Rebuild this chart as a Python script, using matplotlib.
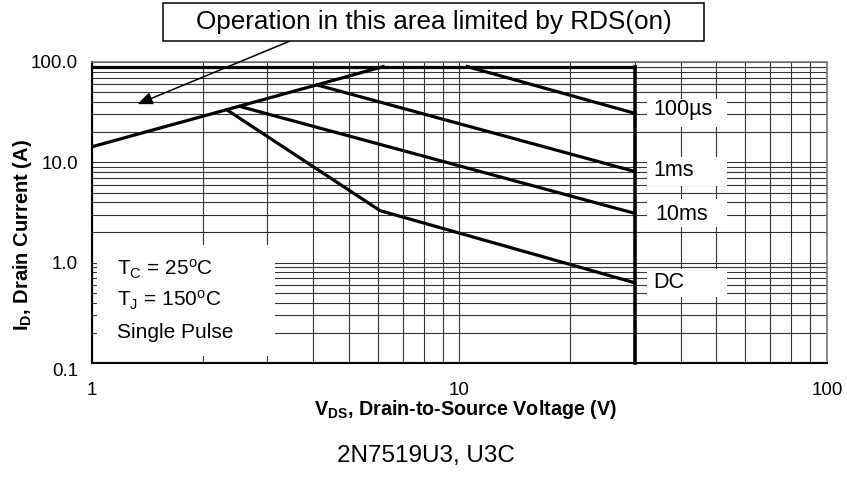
import matplotlib
matplotlib.use("Agg")
import matplotlib.pyplot as plt
from matplotlib.patches import Rectangle
from matplotlib.transforms import blended_transform_factory

plt.rcParams['font.family'] = ['Liberation Sans', 'DejaVu Sans']
plt.rcParams['mathtext.fontset'] = 'custom'
plt.rcParams['mathtext.rm'] = 'Liberation Sans'
plt.rcParams['mathtext.it'] = 'Liberation Sans:italic'
plt.rcParams['mathtext.bf'] = 'Liberation Sans:bold'

# limit lines (V, A)
rds_v = [1.0, 6.2]
rds_i = [14.3, 90.0]
imax_v = [1.0, 30.0]
imax_i = [90.0, 90.0]
vmax_v = [30.0, 30.0]
vmax_i = [90.0, 0.1]

# pulse curves
curve_names = ["100\u00b5s", "1ms", "10ms", "DC"]
curve_v = [[10.5, 30.0], [4.1, 30.0], [2.53, 30.0], [2.33, 6.08, 30.0]]
curve_i = [[90.0, 30.8], [59.0, 8.1], [36.0, 3.1], [33.3, 3.3, 0.63]]

x_ticks = [1, 10, 100]
x_ticklabels = ["1", "10", "100"]
y_ticks = [0.1, 1, 10, 100]
y_ticklabels = ["0.1", "1.0", "10.0", "100.0"]

fig = plt.figure(figsize=(8.47, 4.78), dpi=100)
ax = fig.add_axes([0.1086, 0.2406, 0.8678, 0.6297])
ax.set_xscale("log")
ax.set_yscale("log")
ax.set_xlim(1, 100)
ax.set_ylim(0.1, 100)

ax.set_axisbelow(True)
ax.grid(True, which="both", color="#333333", lw=0.8)
ax.set_xticks(x_ticks, x_ticklabels)
ax.set_yticks(y_ticks, y_ticklabels)
ax.tick_params(which="both", length=0)
ax.tick_params(axis="x", pad=14, labelsize=13.5)
ax.tick_params(axis="y", pad=10, labelsize=13.5)
ax.get_yticklabels()[0].set_va("top")
for s in ["left", "bottom"]:
    ax.spines[s].set_color("black")
    ax.spines[s].set_linewidth(1.5)
for s in ["top", "right"]:
    ax.spines[s].set_color("#777777")
    ax.spines[s].set_linewidth(1.2)

lw = 2.3
ax.plot(rds_v, rds_i, color="black", lw=lw, zorder=3)
ax.plot(imax_v, imax_i, color="black", lw=lw, zorder=3)
ax.plot(vmax_v, vmax_i, color="black", lw=2.6, zorder=3, clip_on=False)
for v, i in zip(curve_v, curve_i):
    ax.plot(v, i, color="black", lw=lw, zorder=3)

# curve labels on white patches, right of the 30 V line
trans = blended_transform_factory(ax.transAxes, ax.transData)
offsets = [(13, 3), (13, 1), (15, -1), (13, 0)]
for name, i, off in zip(curve_names, curve_i, offsets):
    yc = i[-1]
    ax.add_patch(Rectangle((0.755, yc / 1.38), 0.109, yc * 1.38 - yc / 1.38,
                           transform=trans, fc="white", ec="none", zorder=1))
    ax.annotate(name, xy=(vmax_v[0], yc), xytext=off, textcoords="offset points",
                ha="left", va="center", fontsize=15.5, zorder=4)

# conditions box
ax.add_patch(Rectangle((0.0068, 0.023), 0.242, 0.369, transform=ax.transAxes,
                       fc="white", ec="none", zorder=1))
cond = [r"T$_\mathregular{C}$ = 25$^\mathregular{o}$C",
        r"T$_\mathregular{J}$ = 150$^\mathregular{o}$C",
        "Single Pulse"]
for k, t in enumerate(cond):
    ax.text(0.034, 0.292 - 0.105 * k, t, transform=ax.transAxes, fontsize=15,
            ha="left", va="baseline", zorder=4)

# RDS(on) callout
fig.patches.append(Rectangle((0.1924, 0.9142), 0.6387, 0.0795, transform=fig.transFigure,
                             fc="white", ec="black", lw=1.1))
fig.text(0.5118, 0.954, "Operation in this area limited by RDS(on)", fontsize=18.8,
         ha="center", va="center")
ax.annotate("", xy=(1.33, 38), xycoords="data", xytext=(0.3424, 0.9142),
            textcoords="figure fraction",
            arrowprops=dict(arrowstyle="-|>,head_length=0.6,head_width=0.25",
                            color="black", lw=1.1, mutation_scale=15,
                            shrinkA=0, shrinkB=0))

fig.text(0.550, 0.131, r"$\mathbf{V_{DS}}$, Drain-to-Source Voltage (V)",
         fontsize=14.2, fontweight="bold", ha="center", va="baseline")
fig.text(0.026, 0.508, r"$\mathbf{I_D}$, Drain Current (A)", fontsize=14.5,
         fontweight="bold", ha="center", va="center", rotation=90)
fig.text(0.503, 0.0335, "2N7519U3, U3C", fontsize=17.5, ha="center", va="baseline")

fig.savefig("out.png", dpi=100)
